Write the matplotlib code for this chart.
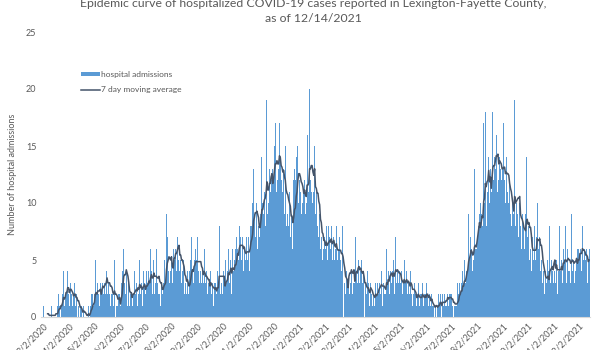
import matplotlib
matplotlib.use('Agg')
import numpy as np
import pandas as pd
import matplotlib.pyplot as plt

plt.rcParams['font.family'] = ['Lato', 'DejaVu Sans']

# daily hospital admissions (starting 3/1/2020)
adm_2020_03 = [0,1,0,0,1,0,0,0,0,0, 0,1,0,0,0,0,1,0,1,2, 1,0,2,1,2,4,1,2,3,2, 4]
adm_2020_04 = [2,1,3,2,2,1,2,3,1,1, 2,0,1,0,1,1,0,0,1,0, 0,0,0,0,1,0,1,2,1,2]
adm_2020_05 = [1,2,5,2,1,3,2,1,3,2, 5,3,2,3,2,4,5,2,3,2, 1,2,3,2,1,5,0,1,1,1, 2]
adm_2020_06 = [2,1,3,4,7,6,3,2,4,1, 2,3,1,2,2,1,3,2,4,2, 3,1,3,2,5,2,3,1,2,4]
adm_2020_07 = [3,2,4,3,2,4,3,6,4,2, 3,5,2,3,6,3,2,4,2,1, 3,2,3,4,5,3,9,7,4,5, 3]
adm_2020_08 = [4,5,3,6,10,5,6,4,7,5, 7,4,5,3,4,5,3,2,3,2, 4,2,3,4,5,7,4,3,5,4, 6]
adm_2020_09 = [5,7,4,3,5,4,3,4,3,6, 2,3,4,2,3,3,2,4,2,3, 1,3,2,3,2,4,3,8,3,2]
adm_2020_10 = [3,2,4,3,2,5,3,4,6,3, 5,4,2,6,4,5,6,5,7,6, 5,8,7,6,5,7,4,6,5,6, 7]
adm_2020_11 = [5,7,4,8,9,8,10,13,9,7, 8,10,6,8,7,9,12,14,10,9, 11,8,12,19,9,10,13,11,12,14]
adm_2020_12 = [13,12,15,17,11,14,12,13,17,14, 12,10,11,13,9,15,8,10,9,8, 11,7,9,8,6,12,13,12,14,12, 15]
adm_2021_01 = [10,12,11,9,13,10,11,12,9,10, 16,13,11,20,12,11,10,12,11,15, 9,11,8,10,7,9,6,7,5,7, 6]
adm_2021_02 = [7,6,8,5,6,8,7,6,8,5, 6,7,5,6,8,5,4,6,7,5, 4,8,3,0,3,2,4,3]
adm_2021_03 = [3,10,2,3,4,2,3,5,3,7, 4,3,5,4,3,4,5,3,4,2, 0,3,2,4,3,2,1,3,2,1, 2]
adm_2021_04 = [2,1,3,2,3,2,4,3,2,4, 1,3,2,3,2,6,3,4,2,5, 4,3,4,5,2,4,7,3,4,3]
adm_2021_05 = [4,2,3,4,2,3,5,2,3,4, 2,3,2,3,4,2,1,2,3,1, 2,1,2,3,1,2,1,2,3,1, 2]
adm_2021_06 = [2,1,3,2,1,2,1,0,2,1, 1,0,1,2,0,1,2,1,2,1, 0,2,1,2,1,3,1,2,1,2]
adm_2021_07 = [2,1,2,1,0,1,1,2,1,3, 2,3,2,3,2,4,3,5,3,4, 6,4,9,5,7,6,3,4,5,13, 6]
adm_2021_08 = [6,9,7,8,9,10,9,10,8,17, 10,18,8,12,11,14,10,13,11,15, 18,12,14,13,16,11,16,12,14,13, 12]
adm_2021_09 = [13,11,17,12,10,14,11,13,10,12, 9,8,10,7,9,19,8,10,9,11, 7,10,8,6,9,7,8,6,9,14]
adm_2021_10 = [7,6,8,5,6,4,7,5,6,8, 5,7,10,6,5,7,4,5,3,4, 3,2,4,3,5,4,2,8,3,5, 4]
adm_2021_11 = [3,8,4,3,5,2,4,3,8,4, 5,3,6,4,5,8,3,6,4,5, 4,3,9,4,5,3,6,4,5,6]
adm_2021_12 = [6,5,7,6,4,8,5,6,4,5, 6,3,5,6]

admissions = (adm_2020_03 + adm_2020_04 + adm_2020_05 + adm_2020_06 + adm_2020_07
              + adm_2020_08 + adm_2020_09 + adm_2020_10 + adm_2020_11 + adm_2020_12
              + adm_2021_01 + adm_2021_02 + adm_2021_03 + adm_2021_04 + adm_2021_05
              + adm_2021_06 + adm_2021_07 + adm_2021_08 + adm_2021_09 + adm_2021_10
              + adm_2021_11 + adm_2021_12)
start_date = '2020-03-01'

title_1 = 'Epidemic curve of hospitalized COVID-19 cases reported in Lexington-Fayette County,'
title_2 = 'as of 12/14/2021'

dates = pd.date_range(start_date, periods=len(admissions))
moving_avg = pd.Series(admissions, index=dates).rolling(7).mean()

bar_color = '#5B9BD5'
line_color = '#44546A'
text_color = '#595959'

fig = plt.figure(figsize=(6, 3.5), dpi=100)
ax = fig.add_axes([40.5/600, 1 - 317/350, 549.5/600, 285/350])

bars = ax.bar(dates, admissions, width=1.0, color=bar_color, linewidth=0,
              label='hospital admissions')
line, = ax.plot(dates, moving_avg.values, color=line_color, lw=1.1,
                label='7 day moving average')

ax.set_ylim(0, 25)
ax.set_yticks(range(0, 26, 5))
ax.set_xlim(pd.Timestamp('2020-02-27 12:00'), pd.Timestamp('2021-12-15'))

# monthly ticks on the 2nd
ticks = [pd.Timestamp(2020 + (2 + i) // 12, (2 + i) % 12 + 1, 2) for i in range(22)]
ax.set_xticks(ticks)
ax.set_xticklabels([f'{t.month}/{t.day}/{t.year}' for t in ticks], rotation=45,
                   ha='right', rotation_mode='anchor', fontsize=6.5, color=text_color)
ax.tick_params(axis='both', length=0, pad=3)
ax.tick_params(axis='y', labelsize=6.5, labelcolor=text_color)

for s in ['top', 'right', 'left']:
    ax.spines[s].set_visible(False)
ax.spines['bottom'].set_color('#D9D9D9')

ax.set_ylabel('Number of hospital admissions', fontsize=6.5, color=text_color, labelpad=6)

leg = fig.legend([bars, line], ['hospital admissions', '7 day moving average'],
                 loc='upper left', bbox_to_anchor=(81/600, 1 - 71/350), frameon=False,
                 fontsize=6, handlelength=2.3, handleheight=0.4, labelspacing=1.0,
                 handletextpad=0.15, borderaxespad=0, borderpad=0)
for t in leg.get_texts():
    t.set_color(text_color)

fig.text(313/600, 1 - 7/350, title_1, ha='center', va='baseline', fontsize=8.8, color=text_color)
fig.text(313/600, 1 - 22/350, title_2, ha='center', va='baseline', fontsize=8.8, color=text_color)

fig.savefig('out.png', dpi=100)
